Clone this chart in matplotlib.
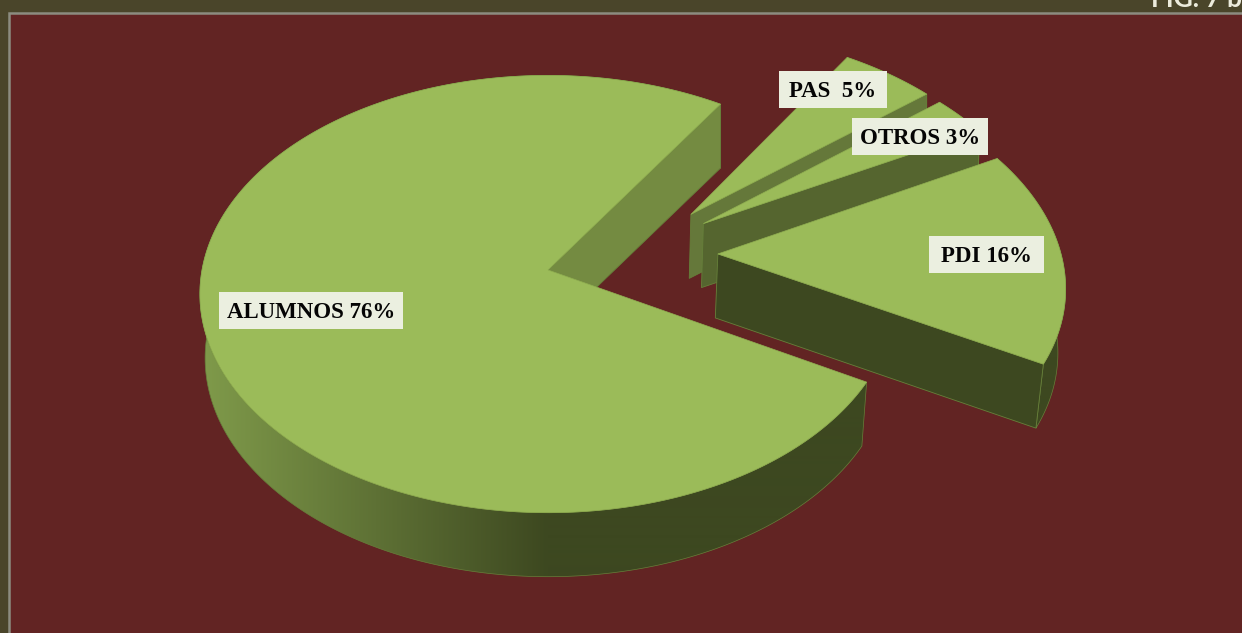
import numpy as np
import matplotlib
matplotlib.use('Agg')
import matplotlib.pyplot as plt
from matplotlib.patches import Polygon, Rectangle

labels = ['ALUMNOS', 'PDI', 'OTROS', 'PAS']
values = [76, 16, 3, 5]
label_texts = ['ALUMNOS 76%', 'PDI 16%', 'OTROS 3%', 'PAS  5%']

# layout of the fake 3d pie, all in pixels
cx, cy = 548, 270
rx, ry = 346, 216
persp = 0.11
depth = 64
start_angle = 57
explode = [(0, 0), (0.495, 0.075), (0.46, 0.22), (0.425, 0.265)]
wall_cols = ['#748b41', '#3d4820', '#55652f', '#65783a']
label_boxes = [(219, 292, 184, 37), (929, 236, 115, 37), (852, 118, 136, 37), (779, 71, 108, 37)]

top_col = '#9bbb59'
dark = np.array([61, 72, 32]) / 255
light = np.array([127, 154, 74]) / 255


def project(x, y):
    w = 1 + persp * y
    return cx + rx * x / w, cy - ry * y / w


def lower(px, py):
    # bottom face pulls in a little towards the centre at the front only
    shrink = 1 - 0.015 * np.clip((py - 100) / 150, 0, 1)
    return cx + (px - cx) * shrink, py + depth


fig = plt.figure(figsize=(12.42, 6.33), dpi=100, facecolor='#4a452a')
ax = fig.add_axes([0, 0, 1, 1])

ax.add_patch(Rectangle((9, 13), 1250, 640, facecolor='#622423',
                       edgecolor='#8c8c80', linewidth=1.8, zorder=0))
ax.text(1151, 7, 'FIG. 7 b', color='#ecebdc', fontsize=19, family='Lato',
        fontweight='bold', ha='left', va='baseline', clip_on=True)

total = float(sum(values))
spans = [v / total * 360 for v in values]
starts = start_angle + np.concatenate([[0], np.cumsum(spans)[:-1]])

# gradient strip used for the outer walls
xs = np.arange(0, 1242)
frac = np.clip((cx - xs) / 345.0, 0, 1)[None, :, None]
shade = dark[None, None, :] + frac * (light - dark)[None, None, :]

# ALUMNOS first, then back to front through the small slices
z = 1
for i in [0, 3, 2, 1]:
    ox, oy = explode[i]
    t = np.radians(np.linspace(starts[i], starts[i] + spans[i], 400))
    apex_x, apex_y = project(ox, oy)
    rim_x, rim_y = project(ox + np.cos(t), oy + np.sin(t))
    low_x, low_y = lower(rim_x, rim_y)

    # outer wall
    band = list(zip(rim_x, rim_y)) + list(zip(low_x[::-1], low_y[::-1]))
    img = ax.imshow(shade, extent=(0, 1242, 633, 0), aspect='auto', interpolation='bilinear', zorder=z)
    band_patch = Polygon(band, facecolor='none', edgecolor='#66803a', linewidth=0.5, zorder=z + 1)
    ax.add_patch(band_patch)
    img.set_clip_path(band_patch)

    # cut wall on the first edge of the slice
    lax, lay = lower(apex_x, apex_y)
    wall = [(apex_x, apex_y), (rim_x[0], rim_y[0]), (low_x[0], low_y[0]), (lax, lay)]
    ax.add_patch(Polygon(wall, facecolor=wall_cols[i], edgecolor='#66803a', linewidth=0.6, zorder=z + 2))

    # top face
    top = [(apex_x, apex_y)] + list(zip(rim_x, rim_y))
    ax.add_patch(Polygon(top, facecolor=top_col, edgecolor='#8fae50', linewidth=0.5, zorder=z + 3))
    z += 4

for txt, (bx, by, bw, bh) in zip(label_texts, label_boxes):
    ax.add_patch(Rectangle((bx, by), bw, bh, facecolor='#ebefe0', edgecolor='none', zorder=z))
    ax.text(bx + bw / 2, by + bh / 2 + 2, txt, fontsize=16.5, family='Liberation Serif',
            fontweight='bold', color='#050505', ha='center', va='center', zorder=z + 1)

ax.set_xlim(0, 1242)
ax.set_ylim(633, 0)
ax.axis('off')

fig.savefig('out.png', dpi=100, facecolor=fig.get_facecolor())
